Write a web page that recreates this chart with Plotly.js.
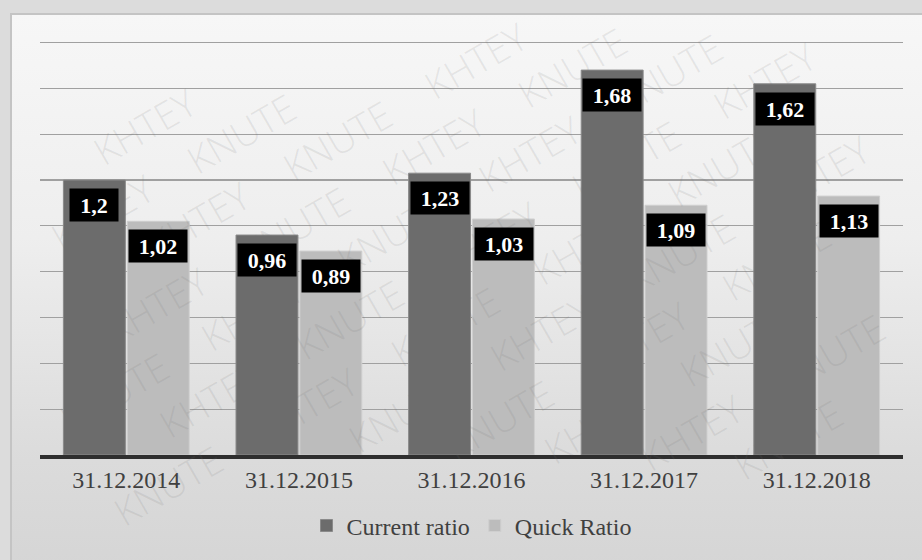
<!DOCTYPE html>
<html>
<head>
<meta charset="utf-8">
<script src="https://cdn.plot.ly/plotly-3.0.1.min.js"></script>
<style>
  html, body { margin: 0; padding: 0; }
  body { width: 922px; height: 560px; background: #dcdcdc; position: relative; overflow: hidden; }
  #frame { position: absolute; left: 10px; top: 13px; width: 920px; height: 560px;
    border: 2px solid #c4c4c4; box-sizing: border-box;
    background: linear-gradient(to bottom, #f7f7f7 0%, #eeeeee 40%, #dbdbdb 80%, #d5d5d5 100%); }
  #chart { position: absolute; left: 0; top: 0; width: 922px; height: 560px; }
</style>
</head>
<body>
<div id="frame"></div>
<div id="chart"></div>
<script>
const categories = ["31.12.2014", "31.12.2015", "31.12.2016", "31.12.2017", "31.12.2018"];
const currentRatio = [1.2, 0.96, 1.23, 1.68, 1.62];
const quickRatio = [1.02, 0.89, 1.03, 1.09, 1.13];
const seriesNames = ["Current ratio", "Quick Ratio"];
const watermarkWords = ["KNUTE", "KHTEY"];

const fmt = v => String(v).replace('.', ',');
const serif = "Liberation Serif, Times New Roman, serif";

const W = 922, H = 560;
const M = { l: 40, r: 19, t: 38, b: 103 };
const pw = W - M.l - M.r, ph = H - M.t - M.b;

const traces = [
  { type: 'bar', name: seriesNames[0], x: categories, y: currentRatio,
    marker: { color: '#6c6c6c', line: { color: '#8a8a8a', width: 1 } }, hoverinfo: 'none' },
  { type: 'bar', name: seriesNames[1], x: categories, y: quickRatio,
    marker: { color: '#bcbcbc', line: { color: '#cfcfcf', width: 1 } }, hoverinfo: 'none' }
];

const annotations = [];
// faint diagonal watermark, words kept fully inside the picture
const ang = 30 * Math.PI / 180;
const ux = Math.cos(ang), uy = -Math.sin(ang);
const vx = Math.sin(ang), vy = Math.cos(ang);
const wordW = 140, wordH = 48;
const hx = (wordW / 2) * Math.cos(ang) + (wordH / 2) * Math.sin(ang);
const hy = (wordW / 2) * Math.sin(ang) + (wordH / 2) * Math.cos(ang);
for (let a = -14; a <= 14; a++) {
  for (let b = -16; b <= 16; b++) {
    const px = 60 + a * 160 * ux + b * 54 * vx + (b % 2 ? 80 * ux : 0);
    const py = 300 + a * 160 * uy + b * 54 * vy + (b % 2 ? 80 * uy : 0);
    if (px < hx + 2 || px > W - hx - 2 || py < hy + 2 || py > H - hy - 2) continue;
    if (py > 470 && px > 260 && px < 700) continue;
    annotations.push({
      xref: 'paper', yref: 'paper', x: (px - M.l) / pw, y: (H - M.b - py) / ph,
      xanchor: 'center', yanchor: 'middle',
      text: watermarkWords[((a + b) % 2 + 2) % 2], showarrow: false, textangle: -30,
      font: { family: 'Open Sans, DejaVu Sans, sans-serif', size: 38, color: 'rgba(110,110,110,0.13)', weight: 300 }
    });
  }
}
// data labels
const addLabels = (vals, shift) => {
  vals.forEach((v, i) => {
    const t = fmt(v);
    annotations.push({
      xref: 'x', yref: 'y', x: categories[i], y: v, xshift: shift, yshift: -8,
      yanchor: 'top', xanchor: 'center', showarrow: false,
      text: '<b>' + t + '</b>', bgcolor: '#000000', borderpad: 5,
      width: t.length * 10 + 8, height: 22,
      font: { family: serif, size: 22, color: '#ffffff' }
    });
  });
};
addLabels(currentRatio, -32);
addLabels(quickRatio, 32);

const layout = {
  width: W, height: H,
  margin: M,
  paper_bgcolor: 'rgba(0,0,0,0)', plot_bgcolor: 'rgba(0,0,0,0)',
  barmode: 'group', bargap: 0.26, bargroupgap: 0.03,
  showlegend: true,
  legend: { orientation: 'h', x: 0.5, xanchor: 'center', y: -0.17, yanchor: 'middle',
    font: { family: serif, size: 24, color: '#404040' }, itemwidth: 30, bgcolor: 'rgba(0,0,0,0)' },
  xaxis: { type: 'category', showgrid: false, ticks: '', showline: true, linecolor: '#2e2e2e', linewidth: 4,
    tickfont: { family: serif, size: 24, color: '#404040' }, fixedrange: true },
  yaxis: { range: [0, 1.82], dtick: 0.2, tick0: 0, showticklabels: false, showgrid: true,
    gridcolor: '#a0a0a0', gridwidth: 1.2, zeroline: false, ticks: '', fixedrange: true },
  annotations: annotations
};

Plotly.newPlot('chart', traces, layout, { displayModeBar: false, staticPlot: true });
</script>
</body>
</html>
